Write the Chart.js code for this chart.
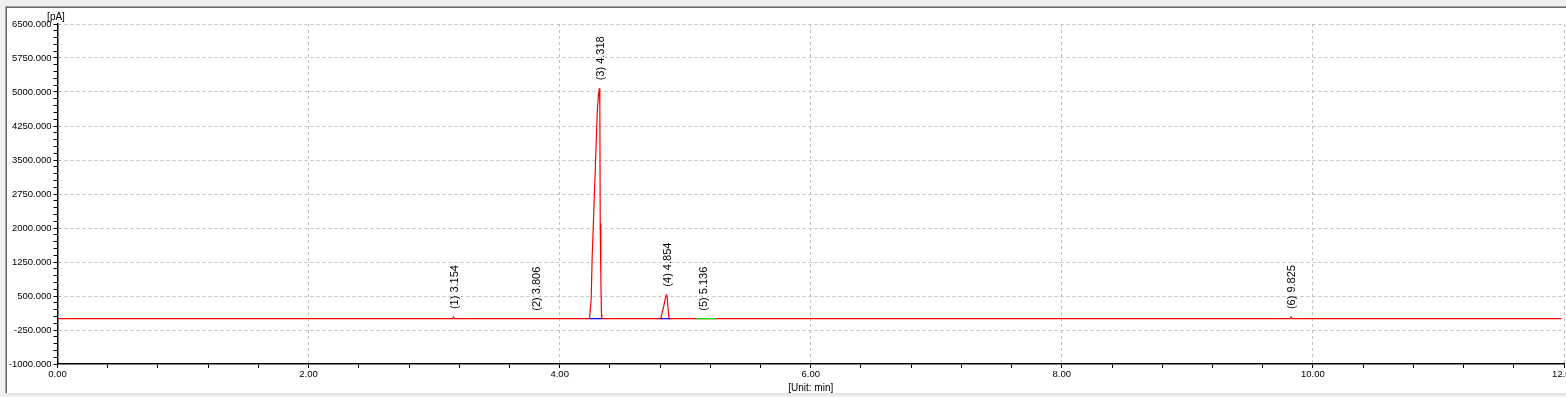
<!DOCTYPE html>
<html lang="en">
<head>
<meta charset="UTF-8">
<title>Chromatogram</title>
<script src="https://cdn.jsdelivr.net/npm/chart.js"></script>
<style>
    html, body { margin: 0; padding: 0; background: #f0f0f0; overflow: hidden; }
    #wrap { width: 1566px; height: 397px; }
</style>
</head>
<body>
<div id="wrap"><canvas id="chrom" width="1566" height="397"></canvas></div>
<script>
// detector trace (min / pA)
const traceTime = [0, 3.146, 3.154, 3.162,
    4.238, 4.251, 4.259, 4.267, 4.275, 4.283, 4.291, 4.299, 4.309, 4.316, 4.320, 4.323, 4.328, 4.333, 4.336,
    4.805, 4.815, 4.831, 4.842, 4.850, 4.856, 4.863, 4.871, 4.876,
    9.817, 9.825, 9.833, 11.98];
const traceSignal = [0, 0, 35, 0,
    0, 430, 1370, 1970, 2630, 3240, 3880, 4540, 4950, 5080, 4700, 2100, 900, 100, 0,
    0, 118, 300, 450, 520, 500, 235, 15, 0,
    0, 35, 0, 0];

// peak table
const peakNo = [1, 2, 3, 4, 5, 6];
const peakTime = [3.154, 3.806, 4.318, 4.854, 5.136, 9.825];
const peakTop = [35, 0, 5080, 530, 0, 35];

// integration baselines
const baseStart = [4.238, 4.805, 5.089];
const baseEnd = [4.336, 4.876, 5.248];

// axes
const xMin = 0, xMax = 12, xStep = 0.4, xMajor = 2;
const yMin = -1000, yMax = 6500, yStep = 150, yMajor = 750;

const FONT = 'Liberation Sans, Arial, sans-serif';

function onStep(v, origin, step) {
    const k = (v - origin) / step;
    return Math.abs(k - Math.round(k)) < 1e-6;
}

const baseColors = ['#0000ff', '#0000ff', '#00e000'];
const baseSets = baseStart.map((s, i) => ({
    data: [{x: s, y: 0}, {x: baseEnd[i], y: 0}],
    showLine: true,
    borderColor: baseColors[i],
    borderWidth: 1.2,
    pointRadius: 0,
    order: 1
}));

const framePlugin = {
    id: 'frame',
    beforeDraw(chart) {
        const c = chart.ctx;
        c.save();
        c.fillStyle = '#f0f0f0';
        c.fillRect(0, 0, chart.width, chart.height);
        c.fillStyle = '#ffffff';
        c.fillRect(7, 8, chart.width - 7, 385);
        c.fillStyle = '#a0a0a0';
        c.fillRect(5, 6, chart.width - 5, 1);
        c.fillRect(5, 6, 1, 387);
        c.fillStyle = '#696969';
        c.fillRect(6, 7, chart.width - 6, 1);
        c.fillRect(6, 7, 1, 386);
        c.fillStyle = '#e3e3e3';
        c.fillRect(5, 393, chart.width - 5, 2);
        c.restore();
    },
    afterDraw(chart) {
        const c = chart.ctx;
        c.save();
        c.fillStyle = '#000';
        c.font = '10px ' + FONT;
        c.textAlign = 'center';
        c.textBaseline = 'middle';
        c.fillText('[pA]', 56, 17);
        c.restore();
    }
};

const peakLabels = {
    id: 'peakLabels',
    afterDatasetsDraw(chart) {
        const c = chart.ctx;
        const xs = chart.scales.x, ys = chart.scales.y;
        c.save();
        c.fillStyle = '#000';
        c.font = '11px ' + FONT;
        c.textAlign = 'left';
        c.textBaseline = 'middle';
        peakTime.forEach((t, i) => {
            const px = xs.getPixelForValue(t) + 1.5;
            const py = ys.getPixelForValue(peakTop[i]) - 8;
            c.save();
            c.translate(px, py);
            c.rotate(-Math.PI / 2);
            c.fillText('(' + peakNo[i] + ') ' + t.toFixed(3), 0, 0);
            c.restore();
        });
        c.restore();
    }
};

const ctx = document.getElementById('chrom').getContext('2d');
new Chart(ctx, {
    type: 'scatter',
    data: {
        datasets: baseSets.concat([{
            data: traceTime.map((t, i) => ({x: t, y: traceSignal[i]})),
            showLine: true,
            borderColor: '#ff0000',
            borderWidth: 1.2,
            pointRadius: 0,
            tension: 0,
            order: 2
        }])
    },
    options: {
        responsive: false,
        animation: false,
        events: [],
        layout: { padding: { left: 0, right: 2, top: 24, bottom: 0 } },
        plugins: {
            legend: { display: false },
            tooltip: { enabled: false }
        },
        scales: {
            x: {
                type: 'linear',
                min: xMin,
                max: xMax,
                ticks: {
                    stepSize: xStep,
                    autoSkip: false,
                    maxRotation: 0,
                    minRotation: 0,
                    maxTicksLimit: 200,
                    padding: 1,
                    color: '#000',
                    font: { family: FONT, size: 9.5 },
                    callback: v => onStep(v, xMin, xMajor) ? v.toFixed(2) : ''
                },
                grid: {
                    color: c => (c.tick && onStep(c.tick.value, xMin, xMajor) && c.tick.value !== xMin) ? '#c0c0c0' : 'rgba(0,0,0,0)',
                    lineWidth: 1,
                    tickColor: '#000',
                    tickLength: 4
                },
                border: { display: true, color: '#000', width: 1.5, dash: [3, 3] },
                title: {
                    display: true,
                    text: '[Unit: min]',
                    color: '#000',
                    font: { family: FONT, size: 10 },
                    padding: { top: 0, bottom: 3 }
                },
                afterFit(scale) {
                    scale.height = 33;
                    scale.paddingLeft = 0;
                    scale.paddingRight = 0;
                }
            },
            y: {
                type: 'linear',
                min: yMin,
                max: yMax,
                ticks: {
                    stepSize: yStep,
                    autoSkip: false,
                    maxTicksLimit: 200,
                    padding: 2,
                    color: '#000',
                    font: { family: FONT, size: 9.5 },
                    callback: v => onStep(v, yMin, yMajor) ? v.toFixed(3) : ''
                },
                grid: {
                    color: c => (c.tick && onStep(c.tick.value, yMin, yMajor) && c.tick.value !== yMin) ? '#c0c0c0' : 'rgba(0,0,0,0)',
                    lineWidth: 1,
                    tickColor: '#000',
                    tickLength: 4
                },
                border: { display: true, color: '#000', width: 1.5, dash: [3, 3] },
                afterFit(scale) {
                    scale.width = 57.5;
                    scale.paddingTop = 0;
                    scale.paddingBottom = 0;
                }
            }
        }
    },
    plugins: [framePlugin, peakLabels]
});
</script>
</body>
</html>
